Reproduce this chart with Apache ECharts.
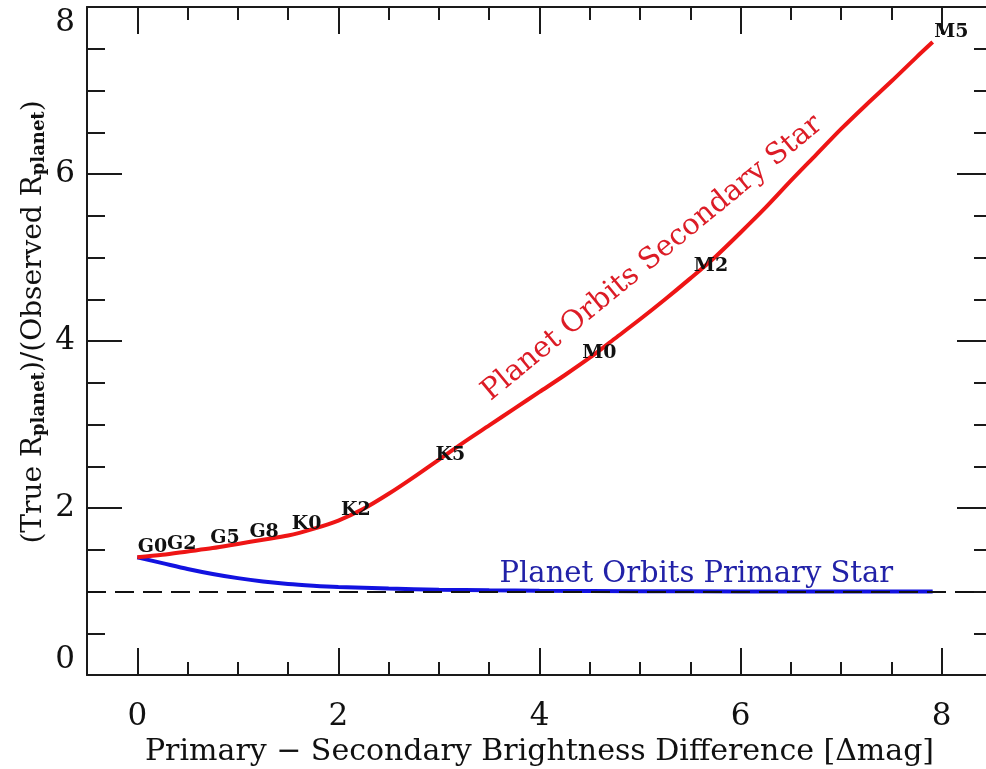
<!DOCTYPE html>
<html>
<head>
<meta charset="utf-8">
<script src="https://cdn.jsdelivr.net/npm/echarts@6/dist/echarts.min.js"></script>
<style>
html,body{margin:0;padding:0;background:#fff;}
#chart{width:986px;height:769px;}
</style>
</head>
<body>
<div id="chart"></div>
<script>
// ---- data ----
const secondaryDm = [0, 0.25, 0.5, 0.75, 1.0, 1.25, 1.5, 1.75, 2.0, 2.25, 2.5, 2.75, 3.0, 3.25, 3.5, 3.75, 4.0, 4.25, 4.5, 4.75, 5.0, 5.25, 5.5, 5.75, 6.0, 6.25, 6.5, 6.75, 7.0, 7.25, 7.5, 7.75, 7.91];
const secondaryRatio = [1.41, 1.44, 1.48, 1.52, 1.57, 1.62, 1.67, 1.75, 1.85, 1.99, 2.17, 2.37, 2.58, 2.79, 2.99, 3.19, 3.39, 3.59, 3.80, 4.03, 4.26, 4.50, 4.75, 5.01, 5.30, 5.60, 5.92, 6.23, 6.54, 6.83, 7.11, 7.40, 7.58];

const primaryDm = [0, 0.25, 0.5, 0.75, 1.0, 1.25, 1.5, 1.75, 2.0, 2.5, 3.0, 3.5, 4.0, 5.0, 6.0, 7.0, 7.91];
const primaryRatio = [1.41, 1.34, 1.27, 1.21, 1.16, 1.12, 1.09, 1.07, 1.055, 1.035, 1.022, 1.014, 1.009, 1.004, 1.001, 1.0, 1.0];

const spectralTypes = ['G0', 'G2', 'G5', 'G8', 'K0', 'K2', 'K5', 'M0', 'M2', 'M5'];
const spectralDm    = [0, 0.29, 0.72, 1.11, 1.53, 2.02, 2.96, 4.42, 5.53, 7.92];
const spectralRatio = [1.41, 1.45, 1.52, 1.59, 1.69, 1.86, 2.52, 3.73, 4.78, 7.58];

const referenceLevel = 1;

const xMajorTicks = [0, 2, 4, 6, 8];

const annotationTexts = ['Planet Orbits Secondary Star', 'Planet Orbits Primary Star'];
const annotationDm    = [5.12, 5.56];
const annotationRatio = [4.99, 1.20];

// ---- chart ----
const SERIF = "'DejaVu Serif', 'Liberation Serif', serif";
const AXIS_COLOR = '#1a1a1a';
const chart = echarts.init(document.getElementById('chart'), null, {renderer: 'canvas'});

function pairs(xs, ys) { return xs.map((x, i) => [x, ys[i]]); }

function xAxisDef(pos, major, showLabel) {
  return {
    type: 'value', position: pos, min: -0.5, max: 8.5,
    interval: major ? undefined : 0.5,
    axisLine: {show: major, onZero: false, lineStyle: {color: AXIS_COLOR, width: 2}},
    axisTick: major ? {show: true, inside: true, length: 27, customValues: xMajorTicks, lineStyle: {color: AXIS_COLOR, width: 2}}
                    : {show: true, inside: true, length: 13, lineStyle: {color: AXIS_COLOR, width: 2}},
    axisLabel: showLabel ? {show: true, customValues: xMajorTicks, margin: 26, fontFamily: SERIF, fontSize: 31, color: '#111'} : {show: false},
    splitLine: {show: false}
  };
}
function yAxisDef(pos, major, showLabel) {
  return {
    type: 'value', position: pos, min: 0, max: 8,
    interval: major ? 2 : 0.5,
    axisLine: {show: major, onZero: false, lineStyle: {color: AXIS_COLOR, width: 2}},
    axisTick: {show: true, inside: true, length: major ? 35 : 18, lineStyle: {color: AXIS_COLOR, width: 2}},
    axisLabel: showLabel ? {show: true, margin: 12, fontFamily: SERIF, fontSize: 31, color: '#111',
                            verticalAlignMinLabel: 'bottom', verticalAlignMaxLabel: 'top'} : {show: false},
    splitLine: {show: false}
  };
}

const xAxes = [xAxisDef('bottom', true, true), xAxisDef('bottom', false, false), xAxisDef('top', true, false), xAxisDef('top', false, false)];
xAxes[0].name = 'Primary \u2212 Secondary Brightness Difference [\u0394mag]';
xAxes[0].nameLocation = 'middle';
xAxes[0].nameGap = 55;
xAxes[0].nameTextStyle = {fontFamily: SERIF, fontSize: 30, color: '#111'};

const option = {
  animation: false,
  backgroundColor: '#fff',
  grid: {left: 87, right: -6, top: 7, bottom: 94, containLabel: false, outerBoundsMode: 'none'},
  xAxis: xAxes,
  yAxis: [yAxisDef('left', true, true), yAxisDef('left', false, false), yAxisDef('right', true, false), yAxisDef('right', false, false)],
  graphic: [{
    type: 'text', x: 34, y: 322, rotation: Math.PI / 2,
    style: {
      text: '{m|(True R}{s|planet}{m|)/(Observed R}{s|planet}{m|)}',
      align: 'center', verticalAlign: 'middle',
      rich: {
        m: {fontFamily: SERIF, fontSize: 28, lineHeight: 28, verticalAlign: 'top', fill: '#111'},
        s: {fontFamily: SERIF, fontSize: 18, fontWeight: 'bold', lineHeight: 18, padding: [16, 0, 0, 0], verticalAlign: 'bottom', fill: '#111'}
      }
    }
  }],
  series: [
    {
      name: 'Primary', type: 'line', xAxisIndex: 0, yAxisIndex: 0,
      data: pairs(primaryDm, primaryRatio), smooth: 0.3, showSymbol: false,
      lineStyle: {color: '#1212e0', width: 4},
      markLine: {
        silent: true, symbol: 'none', label: {show: false},
        lineStyle: {color: '#111', width: 2, type: [19, 9]},
        data: [{yAxis: referenceLevel}]
      },
      z: 3
    },
    {
      name: 'Secondary', type: 'line', xAxisIndex: 0, yAxisIndex: 0,
      data: pairs(secondaryDm, secondaryRatio), smooth: 0.3, showSymbol: false,
      lineStyle: {color: '#ee1515', width: 4}, z: 4
    },
    {
      name: 'Spectral types', type: 'scatter', xAxisIndex: 0, yAxisIndex: 0,
      data: spectralDm.map((x, i) => ({value: [x, spectralRatio[i]], name: spectralTypes[i]})),
      symbolSize: 1, itemStyle: {color: 'rgba(0,0,0,0)', opacity: 1},
      label: {show: true, position: 'right', distance: 0, offset: [0, -10], formatter: p => p.name,
              fontFamily: SERIF, fontSize: 19, fontWeight: 'bold', color: '#111'},
      z: 5
    },
    {
      name: 'Annotations', type: 'scatter', xAxisIndex: 0, yAxisIndex: 0,
      data: annotationDm.map((x, i) => ({value: [x, annotationRatio[i]], name: annotationTexts[i]})),
      symbolSize: 1, itemStyle: {color: 'rgba(0,0,0,0)', opacity: 1},
      label: {show: true, position: 'inside', formatter: p => p.name, fontFamily: SERIF, fontSize: 29},
      z: 5
    }
  ]
};
// per-annotation styles
option.series[3].data[0].label = {rotate: 39.5, color: '#dc1c26'};
option.series[3].data[1].label = {rotate: 0, color: '#2222a8'};

chart.setOption(option);
</script>
</body>
</html>
